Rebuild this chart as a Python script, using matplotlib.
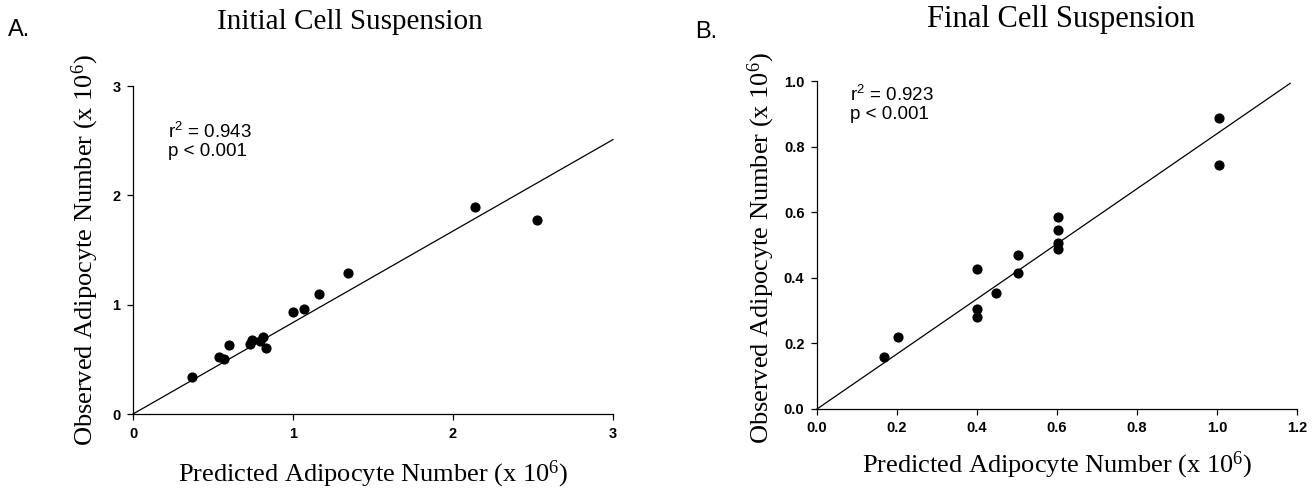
import matplotlib
matplotlib.use('Agg')
import matplotlib.pyplot as plt

plt.rcParams['mathtext.default'] = 'regular'

# Panel A - initial cell suspension
init_pred = [0.366, 0.539, 0.571, 0.600, 0.731, 0.742, 0.794, 0.813, 0.834,
             1.002, 1.070, 1.165, 1.346, 2.135, 2.522]
init_obs = [0.341, 0.521, 0.506, 0.627, 0.637, 0.679, 0.664, 0.707, 0.600,
            0.932, 0.956, 1.094, 1.291, 1.892, 1.770]
init_fit_x = [0, 3.0]
init_fit_y = [0, 2.51]

# Panel B - final cell suspension
final_pred = [0.167, 0.202, 0.400, 0.400, 0.400, 0.448, 0.502, 0.502,
              0.602, 0.602, 0.602, 0.602, 1.004, 1.004]
final_obs = [0.158, 0.221, 0.426, 0.305, 0.279, 0.355, 0.470, 0.415,
             0.586, 0.547, 0.507, 0.487, 0.886, 0.745]
final_fit_x = [0, 1.183]
final_fit_y = [0, 0.993]

serif = 'Liberation Serif'
sans = 'Liberation Sans'

fig = plt.figure(figsize=(13.13, 4.93), dpi=100)
ax_a = fig.add_axes([133 / 1313, 79 / 493, 480 / 1313, 328 / 493])
ax_b = fig.add_axes([817 / 1313, 84 / 493, 480 / 1313, 328 / 493])


def style(ax, xlim, ylim, xticks, yticks, fmt):
    ax.set_xlim(xlim)
    ax.set_ylim(ylim)
    ax.set_xticks(xticks)
    ax.set_yticks(yticks)
    ax.set_xticklabels([fmt.format(v) for v in xticks])
    ax.set_yticklabels([fmt.format(v) for v in yticks])
    for s in ['top', 'right']:
        ax.spines[s].set_visible(False)
    for s in ['left', 'bottom']:
        ax.spines[s].set_linewidth(0.9)
    ax.tick_params(direction='out', length=4, width=0.9, pad=5)
    for lab in ax.get_xticklabels() + ax.get_yticklabels():
        lab.set_fontfamily(sans)
        lab.set_fontsize(10.5)
        lab.set_fontweight('bold')


# A
ax_a.plot(init_fit_x, init_fit_y, color='black', lw=0.9, clip_on=False)
ax_a.scatter(init_pred, init_obs, s=40, color='black', zorder=3, clip_on=False)
style(ax_a, (0, 3), (0, 3), [0, 1, 2, 3], [0, 1, 2, 3], '{:g}')
ax_a.text(0.22, 2.5, 'r$^2$ = 0.943\np < 0.001', fontfamily=sans, fontsize=13.5,
          va='center', linespacing=1.05)
ax_a.set_xlabel('Predicted Adipocyte Number (x 10$^6$)', fontfamily=serif,
                fontsize=19)
ax_a.set_ylabel('Observed Adipocyte Number (x 10$^6$)', fontfamily=serif,
                fontsize=19)
ax_a.xaxis.set_label_coords(0.5, -0.135)
ax_a.yaxis.set_label_coords(-0.067, 0.5)
fig.text(350 / 1313, 1 - 22 / 493, 'Initial Cell Suspension', fontfamily=serif,
         fontsize=21, ha='center', va='center')
fig.text(8 / 1313, 1 - 30 / 493, 'A.', fontfamily=sans, fontsize=17,
         ha='left', va='center')

# B
ax_b.plot(final_fit_x, final_fit_y, color='black', lw=0.9, clip_on=False)
ax_b.scatter(final_pred, final_obs, s=40, color='black', zorder=3, clip_on=False)
style(ax_b, (0, 1.2), (0, 1.0), [0, 0.2, 0.4, 0.6, 0.8, 1.0, 1.2],
      [0, 0.2, 0.4, 0.6, 0.8, 1.0], '{:.1f}')
ax_b.text(0.083, 0.93, 'r$^2$ = 0.923\np < 0.001', fontfamily=sans, fontsize=13.5,
          va='center', linespacing=1.05)
ax_b.set_xlabel('Predicted Adipocyte Number (x 10$^6$)', fontfamily=serif,
                fontsize=19)
ax_b.set_ylabel('Observed Adipocyte Number (x 10$^6$)', fontfamily=serif,
                fontsize=19)
ax_b.xaxis.set_label_coords(0.5, -0.125)
ax_b.yaxis.set_label_coords(-0.083, 0.49)
fig.text(1061 / 1313, 1 - 19 / 493, 'Final Cell Suspension', fontfamily=serif,
         fontsize=22, ha='center', va='center')
fig.text(695 / 1313, 1 - 32 / 493, 'B.', fontfamily=sans, fontsize=17,
         ha='left', va='center')

fig.savefig('out.png', dpi=100)
